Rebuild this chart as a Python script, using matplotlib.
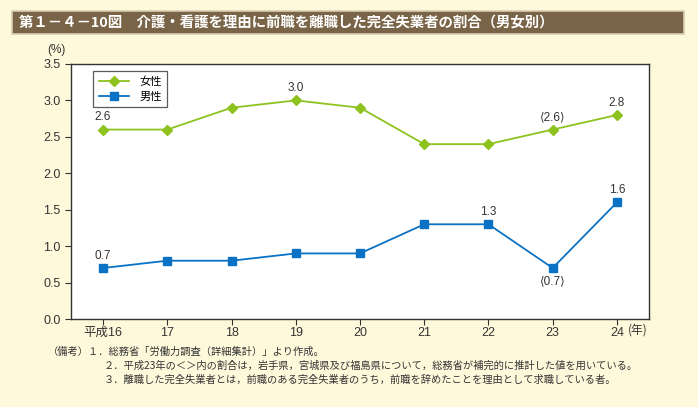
import matplotlib
matplotlib.use("Agg")
from matplotlib import pyplot as plt
from matplotlib.patches import Rectangle

plt.rcParams['font.family'] = ['Liberation Sans', 'Noto Sans CJK JP']

years = [16, 17, 18, 19, 20, 21, 22, 23, 24]
year_labels = ['平成16', '17', '18', '19', '20', '21', '22', '23', '24']
female = [2.6, 2.6, 2.9, 3.0, 2.9, 2.4, 2.4, 2.6, 2.8]
male = [0.7, 0.8, 0.8, 0.9, 0.9, 1.3, 1.3, 0.7, 1.6]

# which points get a value label, and where (above / below)
female_labels = {16: '2.6', 19: '3.0', 23: '⟨2.6⟩', 24: '2.8'}
male_labels = {16: ('0.7', 'above'), 22: ('1.3', 'above'),
               23: ('⟨0.7⟩', 'below'), 24: ('1.6', 'above')}

bg = '#FFF9DC'
green = '#8DC21F'
blue = '#0A72C4'
txt = '#333333'
lab_font = ['Liberation Sans', 'DejaVu Sans']

fig = plt.figure(figsize=(6.98, 4.07), dpi=100, facecolor=bg)
W, H = 698, 407

# title bar
fig.patches.append(Rectangle((12 / W, 1 - 34 / H), 672 / W, 23 / H, transform=fig.transFigure,
                             facecolor='#7A6447', edgecolor='#D8CDB0', lw=1.2))
fig.text(19 / W, 1 - 22.5 / H, '第１－４－10図　介護・看護を理由に前職を離職した完全失業者の割合（男女別）',
         color='white', fontsize=10.4, fontweight='bold', va='center', ha='left',
         family=['Noto Sans CJK JP'])

ax = fig.add_axes([71 / W, 1 - 319 / H, 578 / W, 255 / H])
ax.set_facecolor('white')

ax.plot(years, female, color=green, marker='D', markersize=5, lw=1.3, label='女性')
ax.plot(years, male, color=blue, marker='s', markersize=5.5, lw=1.3, label='男性')

for x, s in female_labels.items():
    y = female[years.index(x)]
    ax.annotate(s, (x, y), xytext=(0, 4.5), textcoords='offset points', ha='center', va='bottom',
                fontsize=8.5, color=txt, family=lab_font)
for x, (s, pos) in male_labels.items():
    y = male[years.index(x)]
    off = 4.5 if pos == 'above' else -5
    ax.annotate(s, (x, y), xytext=(0, off), textcoords='offset points', ha='center',
                va='bottom' if pos == 'above' else 'top', fontsize=8.5, color=txt, family=lab_font)

ax.set_xlim(15.5, 24.5)
ax.set_ylim(0, 3.5)
ax.set_xticks(years)
ax.set_xticklabels(year_labels)
ax.set_yticks([0, 0.5, 1.0, 1.5, 2.0, 2.5, 3.0, 3.5])
ax.set_yticklabels(['0.0', '0.5', '1.0', '1.5', '2.0', '2.5', '3.0', '3.5'])
ax.tick_params(axis='both', labelsize=9, colors=txt, length=4, width=0.8, direction='out')
ax.tick_params(axis='x', pad=1.5)
for sp in ax.spines.values():
    sp.set_color('#333333')
    sp.set_linewidth(1.0)

fig.text(47 / W, 1 - 50 / H, '(%)', fontsize=8.5, color=txt, ha='left', va='center')
fig.text(628 / W, 1 - 330 / H, '(年)', fontsize=8.5, color=txt, ha='left', va='center',
         family=['Noto Sans CJK JP'])

leg = ax.legend(loc='upper left', bbox_to_anchor=(22 / 578, 1 - 7 / 255), frameon=True,
                fancybox=False, edgecolor='#333333', borderpad=0.5, handlelength=2.7,
                labelspacing=0.4, borderaxespad=0, handletextpad=0.9,
                prop={'family': ['Noto Sans CJK JP'], 'size': 8.1})
leg.get_frame().set_linewidth(0.9)

notes = ['（備考）１．総務省「労働力調査（詳細集計）」より作成。',
         '２．平成23年の＜＞内の割合は，岩手県，宮城県及び福島県について，総務省が補完的に推計した値を用いている。',
         '３．離職した完全失業者とは，前職のある完全失業者のうち，前職を辞めたことを理由として求職している者。']
fig.text(48 / W, 1 - 352 / H, notes[0], fontsize=7.4, color=txt, va='center', family=['Noto Sans CJK JP'])
fig.text(104 / W, 1 - 366 / H, notes[1], fontsize=7.4, color=txt, va='center', family=['Noto Sans CJK JP'])
fig.text(104 / W, 1 - 380 / H, notes[2], fontsize=7.4, color=txt, va='center', family=['Noto Sans CJK JP'])

fig.savefig('out.png', dpi=100, facecolor=bg)
